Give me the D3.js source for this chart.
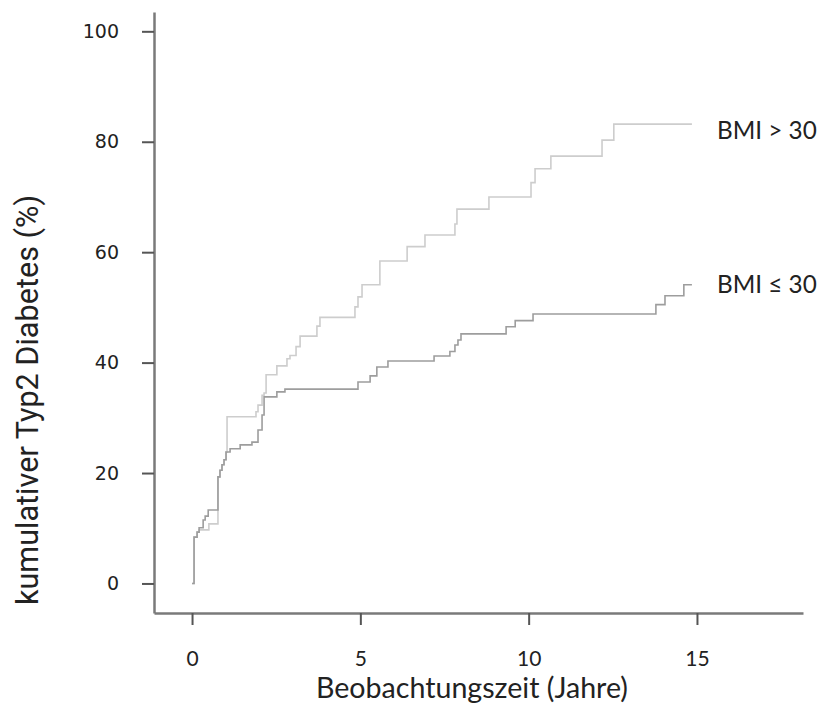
<!DOCTYPE html>
<html>
<head>
<meta charset="utf-8">
<script src="https://cdn.jsdelivr.net/npm/d3@7"></script>
<style>
  body { margin: 0; background: #fff; }
  .axis text { fill: #222; }
</style>
</head>
<body>
<script>
// Kaplan-Meier style step data (years, cumulative %)
var highTime = [0, 0.06, 0.15, 0.21, 0.5, 0.77, 0.83, 0.89, 0.95, 1.01, 1.04, 1.90, 1.96, 2.08, 2.14, 2.20,
    2.52, 2.82, 2.91, 3.09, 3.21, 3.71, 3.80, 4.84, 4.93, 5.05, 5.58, 6.39, 6.92, 7.81, 7.87,
    8.82, 10.07, 10.19, 10.66, 12.18, 12.53, 14.85];
var highPct = [0, 8.4, 9.3, 9.7, 10.8, 19.3, 20.5, 21.5, 22.4, 23.8, 30.2, 31.1, 32.3, 34.1, 34.5, 37.8,
    39.4, 40.7, 41.3, 42.9, 44.8, 46.6, 48.2, 50.1, 51.9, 54.1, 58.4, 61.0, 63.1, 65.1, 67.8,
    70.0, 72.6, 75.1, 77.4, 80.3, 83.2, 83.2];

var lowTime = [0, 0.06, 0.15, 0.21, 0.33, 0.39, 0.48, 0.77, 0.83, 0.89, 0.95, 1.01, 1.13, 1.43, 1.78,
    1.96, 2.08, 2.14, 2.52, 2.76, 4.93, 5.29, 5.49, 5.82, 7.19, 7.66, 7.81, 7.90, 7.99,
    9.33, 9.60, 10.13, 13.78, 14.05, 14.61, 14.85];
var lowPct = [0, 8.4, 9.3, 10.1, 11.5, 12.2, 13.3, 19.3, 20.5, 21.5, 22.4, 23.8, 24.4, 25.1, 25.6,
    27.8, 30.5, 33.8, 34.7, 35.2, 36.5, 37.6, 39.2, 40.3, 41.2, 42.0, 43.2, 44.1, 45.2,
    46.5, 47.6, 48.8, 50.5, 52.1, 54.1, 54.1];

var seriesNames = ["BMI > 30", "BMI \u2264 30"];
var seriesColors = ["#cdcdcd", "#9d9d9d"];
var xTicks = [0, 5, 10, 15];
var yTicks = [0, 20, 40, 60, 80, 100];

var width = 819, height = 727;

var svg = d3.select("body")
    .append("svg")
    .attr("width", width)
    .attr("height", height);

// x: 0 -> 192px, 15 -> 697px, axis line spans 154..803
var xScale = d3.scaleLinear()
    .domain([-1.13, 18.15])
    .range([154, 803]);

// y: 0 -> 583.5px, 100 -> 31.3px, axis line spans 613..12
var yScale = d3.scaleLinear()
    .domain([-5.35, 103.5])
    .range([613, 12]);

// scale a text's font size so it spans the wanted width
function fitText(sel, w) {
    var len = sel.node().getComputedTextLength();
    var fs = parseFloat(sel.style("font-size"));
    sel.style("font-size", (fs * w / len).toFixed(1) + "px");
}

var xAxis = d3.axisBottom(xScale)
    .tickValues(xTicks)
    .tickSize(12)
    .tickSizeOuter(0)
    .tickPadding(26);

var yAxis = d3.axisLeft(yScale)
    .tickValues(yTicks)
    .tickSize(12)
    .tickSizeOuter(0)
    .tickPadding(23);

var gx = svg.append("g")
    .attr("class", "axis")
    .attr("transform", "translate(0," + 613 + ")")
    .call(xAxis);

var gy = svg.append("g")
    .attr("class", "axis")
    .attr("transform", "translate(" + 154 + ",0)")
    .call(yAxis);

gx.selectAll("text")
    .style("font-family", "Lato, sans-serif")
    .style("font-size", "21px");
gy.selectAll("text")
    .style("font-family", "'DejaVu Sans', sans-serif")
    .style("font-size", "19px");

svg.selectAll(".axis .domain")
    .attr("stroke", "#7a7a7a")
    .attr("stroke-width", 2.5);
svg.selectAll(".axis .tick line")
    .attr("stroke", "#555")
    .attr("stroke-width", 2);

// step curves
var line = d3.line()
    .x(function(d) { return xScale(d[0]); })
    .y(function(d) { return yScale(d[1]); })
    .curve(d3.curveStepAfter);

var series = [
    d3.zip(highTime, highPct),
    d3.zip(lowTime, lowPct)
];

svg.selectAll(".km")
    .data(series)
    .enter()
    .append("path")
    .attr("class", "km")
    .attr("d", line)
    .attr("fill", "none")
    .attr("stroke", function(d, i) { return seriesColors[i]; })
    .attr("stroke-width", 1.6);

// labels at the end of each curve
var lblShift = [6, 0];
svg.selectAll(".lbl")
    .data(series)
    .enter()
    .append("text")
    .attr("class", "lbl")
    .attr("x", 717)
    .attr("y", function(d, i) { return yScale(d[d.length - 1][1]) + lblShift[i]; })
    .attr("dy", "0.35em")
    .style("font-family", "Lato, sans-serif")
    .style("font-size", "20px")
    .style("fill", "#222")
    .text(function(d, i) { return seriesNames[i]; })
    .each(function() { fitText(d3.select(this), 100); });

// axis titles
var xTitle = svg.append("text")
    .attr("x", 472)
    .attr("y", 698)
    .style("text-anchor", "middle")
    .style("font-family", "Lato, sans-serif")
    .style("font-size", "24px")
    .style("fill", "#222")
    .text("Beobachtungszeit (Jahre)");
fitText(xTitle, 312);

var yTitle = svg.append("text")
    .attr("transform", "rotate(-90)")
    .attr("x", -400)
    .attr("y", 38)
    .style("text-anchor", "middle")
    .style("font-family", "'Liberation Sans Narrow', 'Roboto', sans-serif")
    .style("font-size", "26px")
    .style("fill", "#222")
    .text("kumulativer Typ2 Diabetes (%)");
fitText(yTitle, 410);
</script>
</body>
</html>
